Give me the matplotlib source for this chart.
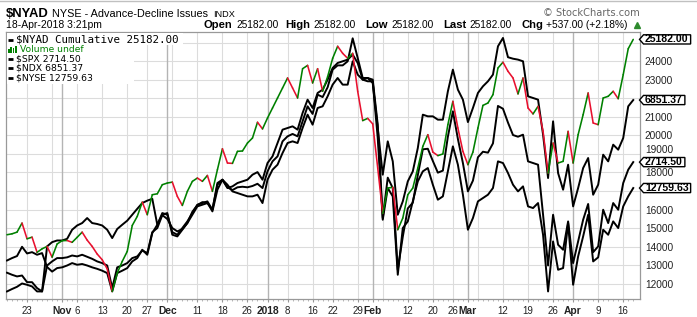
import numpy as np
import pandas as pd
import matplotlib
matplotlib.use('Agg')
import matplotlib.pyplot as plt
from matplotlib import font_manager
from matplotlib.collections import LineCollection
from matplotlib.patches import Polygon, Rectangle
from matplotlib.lines import Line2D

holidays = ['2017-11-23', '2017-12-25', '2018-01-01', '2018-01-15', '2018-02-19', '2018-03-30']
dates = pd.bdate_range('2017-10-17', '2018-04-18', freq='C', holidays=holidays)

nyad = [14640, 14690, 14780, 15270, 14420, 14510, 13690, 13880, 14010, 13430,
        14140, 14320, 14330, 14230, 14500, 14780, 14350, 14010, 13600, 13290,
        12800, 11580, 12570, 13200, 13740, 15140, 15630, 16400, 15720, 16800,
        16850, 17340, 17430, 17480, 16710, 16220, 16980, 17520, 17700, 17520,
        17840, 16980, 18150, 19280, 18510, 18490, 19140, 19160, 19590, 19860,
        20710, 20350, 20940, 21480, 22020, 22560, 23100, 22560, 22020, 23600,
        23780, 22830, 23600, 22380, 23170, 24160, 24810, 24430, 24160, 24430,
        22380, 20800, 20920, 20620, 18240, 15790, 17160, 17200, 14910, 15540,
        16800, 17160, 18240, 19410, 20040, 19100, 18910, 19000, 20580, 21840,
        20400, 19140, 18420, 19100, 20400, 21620, 21750, 22200, 23640, 23950,
        23460, 23100, 22240, 23100, 21480, 21160, 21570, 20220, 17970, 19590,
        18510, 18600, 20220, 18510, 20040, 21120, 22290, 20670, 20580, 22020,
        22110, 22380, 21980, 23280, 24680, 25182]

ndx = [11580, 11710, 11830, 12010, 11940, 11850, 11580, 11580, 14010, 14240,
       14330, 14330, 14420, 14910, 15140, 15270, 15540, 15270, 15220, 15140,
       14910, 14460, 14950, 15180, 15400, 15720, 16040, 16350, 16480, 16580,
       15180, 15720, 15810, 14640, 14550, 14910, 15270, 15720, 16170, 16260,
       16350, 15990, 17340, 17610, 17340, 16980, 16890, 16800, 16710, 16710,
       16800, 16350, 17610, 18150, 18420, 19050, 19590, 19680, 19590, 20400,
       21120, 20580, 21480, 21570, 22110, 22740, 23100, 22740, 22740, 24000,
       23280, 23010, 23100, 22830, 20400, 17880, 19680, 18600, 15720, 16440,
       17520, 18060, 19320, 21120, 21030, 21030, 20850, 20850, 22380, 23550,
       22470, 21930, 20720, 21480, 22290, 22650, 22920, 23280, 24810, 25260,
       24220, 24140, 24090, 24000, 22110, 22020, 21930, 20040, 17700, 20760,
       17970, 17070, 18420, 16170, 17160, 18240, 18780, 16800, 17340, 18960,
       18600, 19500, 19230, 19860, 21570, 21910]

spx = [12590, 12480, 12390, 12440, 12080, 12080, 11760, 11580, 12980, 13200,
       13380, 13380, 13420, 13520, 13470, 13560, 13450, 13340, 13200, 13110,
       12980, 11760, 12880, 12980, 13110, 13380, 13470, 13790, 13650, 14780,
       15000, 15700, 15490, 15000, 14820, 14950, 15270, 15880, 16240, 16400,
       16370, 15900, 17070, 17610, 17200, 17050, 17200, 17230, 17200, 17270,
       17390, 17160, 18060, 18600, 18870, 19680, 19950, 20080, 19950, 20760,
       21570, 21160, 22200, 22070, 22600, 23550, 23780, 23780, 24000, 25240,
       24180, 23100, 23100, 23010, 20580, 15540, 17720, 17160, 12750, 14530,
       16060, 16370, 17860, 19250, 19280, 18620, 17990, 18100, 19930, 21300,
       19810, 18510, 16980, 17560, 18820, 19120, 19070, 19570, 21590, 21440,
       20690, 20020, 19930, 20040, 18600, 18510, 18420, 15720, 12980, 15720,
       14100, 13830, 15360, 13110, 14280, 15450, 16300, 13700, 14010, 15990,
       15270, 16350, 15990, 17430, 18150, 18560]

nyse = [13250, 13380, 13490, 13990, 13630, 13700, 13560, 13650, 12900, 12650,
        12840, 12880, 12980, 13110, 13020, 13060, 12980, 12880, 12800, 12700,
        12570, 11580, 12570, 12700, 12840, 13200, 13380, 13830, 13560, 14730,
        15180, 15810, 15720, 14780, 14640, 15000, 15360, 15810, 16260, 16350,
        16440, 15990, 17430, 17610, 17160, 17250, 17430, 17520, 17610, 17880,
        18020, 17610, 18510, 18870, 19590, 20310, 20400, 20490, 20310, 21210,
        21930, 21480, 22290, 22470, 23010, 23640, 23910, 24000, 24090, 24360,
        23910, 23010, 22920, 22920, 19860, 15450, 17160, 16710, 12480, 15000,
        15360, 16440, 17520, 18060, 18240, 17340, 16530, 16710, 18060, 19410,
        18420, 16800, 14910, 15540, 16440, 16620, 16800, 17160, 18600, 18510,
        17970, 17340, 16980, 17250, 16170, 16080, 16350, 14640, 11580, 14280,
        12750, 12840, 15270, 11940, 13470, 14550, 15720, 13200, 13420, 14910,
        14640, 15360, 15000, 16170, 16710, 17160]

tick_dates = ['2017-10-23', '2017-11-01', '2017-11-06', '2017-11-13', '2017-11-20', '2017-11-27',
              '2017-12-01', '2017-12-11', '2017-12-18', '2017-12-26', '2018-01-02', '2018-01-08',
              '2018-01-16', '2018-01-22', '2018-01-29', '2018-02-01', '2018-02-12', '2018-02-20',
              '2018-02-26', '2018-03-01', '2018-03-12', '2018-03-19', '2018-03-26', '2018-04-02',
              '2018-04-09', '2018-04-16']
tick_labels = ['23', 'Nov', '6', '13', '20', '27', 'Dec', '11', '18', '26', '2018', '8', '16', '22',
               '29', 'Feb', '12', '20', '26', 'Mar', '12', '19', '26', 'Apr', '9', '16']
y_ticks = list(range(12000, 24001, 1000))
hidden_y_labels = {22000, 17000}   # covered by the value tags in the reference
nudged_y_labels = {19000: 4.0}     # drawn a little higher, just above a value tag

legend_rows = ['$SPX 2714.50', '$NDX 6851.37', '$NYSE 12759.63']
last_labels = {'nyad': '25182.00', 'ndx': '6851.37', 'spx': '2714.50', 'nyse': '12759.63'}
header_items = [('Open', '25182.00', 204), ('High', '25182.00', 285), ('Low', '25182.00', 365),
                ('Last', '25182.00', 443), ('Chg', '+537.00 (+2.18%)', 521)]


def have_font(name):
    try:
        font_manager.findfont(font_manager.FontProperties(family=name, weight='bold'),
                              fallback_to_default=False)
        return True
    except Exception:
        return False


title_family = 'Liberation Sans Narrow' if have_font('Liberation Sans Narrow') else 'Liberation Sans'
title_size = 10.6 if title_family == 'Liberation Sans Narrow' else 9.4

W, H = 697, 317
fig = plt.figure(figsize=(W / 100, H / 100), dpi=100)
fig.patch.set_facecolor('white')


def fx(px):
    return px / W


def fy(py):
    return 1 - py / H


L, R, T, B = 6, 640, 32, 299
ax = fig.add_axes([fx(L), fy(B), (R - L) / W, (B - T) / H])
n = len(dates)
x = np.arange(n)
ax.set_xlim(-0.2, 126.35)
ax.set_ylim(11172, 25581)

# grid
for yv in range(12000, 25001, 1000):
    ax.axhline(yv, color='#dcdcdc', lw=0.8, zorder=0)
months = [i for i in range(1, n) if dates[i].month != dates[i - 1].month]
weeks = [i for i in range(1, n) if dates[i].isocalendar()[1] != dates[i - 1].isocalendar()[1]]
for i in weeks:
    if i not in months:
        ax.axvline(i, color='#dcdcdc', lw=0.8, zorder=0)
for i in months:
    ax.axvline(i, color='#b4b4b4', lw=1.0, zorder=0)

# overlays
for s in (nyse, spx, ndx):
    ax.plot(x, s, color='black', lw=1.4, zorder=3, solid_joinstyle='round')

# NYAD colored line
v = np.array(nyad, dtype=float)
segs = [[(x[i], v[i]), (x[i + 1], v[i + 1])] for i in range(n - 1)]
cols = ['#008000' if v[i + 1] >= v[i] else '#e8102e' for i in range(n - 1)]
lc = LineCollection(segs, colors=cols, linewidths=1.15, zorder=4, capstyle='round')
ax.add_collection(lc)

for sp in ax.spines.values():
    sp.set_color('#999999')
    sp.set_linewidth(0.9)

# x ticks
pos = [dates.get_loc(pd.Timestamp(d)) for d in tick_dates]
ax.set_xticks(pos)
ax.set_xticklabels(tick_labels)
month_names = {'Nov', 'Dec', '2018', 'Feb', 'Mar', 'Apr'}
for t, lab in zip(ax.get_xticklabels(), tick_labels):
    t.set_fontfamily('Liberation Sans')
    if lab in month_names:
        t.set_fontweight('bold')
        t.set_fontsize(7.4)
    else:
        t.set_fontsize(7.0)
    t.set_color('#222222')
ax.set_xticks(x, minor=True)
ax.tick_params(axis='x', which='major', length=2.5, color='#999999', pad=2.5)
ax.tick_params(axis='x', which='minor', length=1.5, color='#aaaaaa')

# y ticks on right
ax.yaxis.tick_right()
ax.set_yticks(y_ticks)
ax.set_yticklabels(['' if (t in hidden_y_labels or t in nudged_y_labels) else str(t) for t in y_ticks])
ax.tick_params(axis='y', which='both', length=0, pad=3.5, labelsize=7.3, labelcolor='#222222')
for t in ax.get_yticklabels():
    t.set_fontfamily('Liberation Sans')
for yv, dy in nudged_y_labels.items():
    _, yd = ax.transData.transform((0, yv))
    fig.text(fx(640 + 3.5 * 100 / 72), (yd + dy) / H, str(yv), fontsize=7.3, family='Liberation Sans',
             color='#222222', va='center', ha='left')

# header
fig.add_artist(Line2D([0, 1], [fy(1), fy(1)], transform=fig.transFigure, color='#c0c0c0', lw=1))
fig.text(fx(6), fy(17.2), '$NYAD', fontsize=title_size, fontweight='bold', family=title_family,
         va='baseline', ha='left')
fig.text(fx(52), fy(17.2), 'NYSE - Advance-Decline Issues', fontsize=7.8, family='Liberation Sans',
         va='baseline', ha='left')
fig.text(fx(213), fy(17.2), 'INDX', fontsize=6.6, family='Liberation Sans', va='baseline', ha='left')
fig.text(fx(6), fy(28.4), '18-Apr-2018 3:21pm', fontsize=7.5, family='Liberation Sans',
         va='baseline', ha='left')
fig.text(fx(640), fy(16.5), '\u00a9 StockCharts.com', fontsize=7.1, family='DejaVu Sans',
         va='baseline', ha='right', color='#666666')

renderer = fig.canvas.get_renderer()
for lab, val, xpos in header_items:
    t = fig.text(fx(xpos), fy(28.4), lab, fontsize=8.1, fontweight='bold', family='Liberation Sans',
                 va='baseline', ha='left')
    w = t.get_window_extent(renderer).width
    fig.text(fx(xpos + w + 3.5), fy(28.4), val, fontsize=7.3, family='Liberation Sans',
             va='baseline', ha='left')
fig.add_artist(Line2D([fx(636.5)], [fy(25)], marker='^', markersize=4, color='#2e8b2e',
                      transform=fig.transFigure, linestyle='none'))

# legend (white background)
fig.add_artist(Rectangle((fx(6.5), fy(84)), (134 - 6.5) / W, (84 - 32.5) / H, transform=fig.transFigure,
                         facecolor='white', edgecolor='none', zorder=5))
fig.add_artist(Rectangle((fx(6.5), fy(45)), (183 - 6.5) / W, (45 - 32.5) / H, transform=fig.transFigure,
                         facecolor='white', edgecolor='none', zorder=5))
rows_y = [39.7, 49.7, 58.9, 68.3, 77.8]
fig.text(fx(15.5), fy(rows_y[0]), '$NYAD Cumulative 25182.00', fontsize=7.8, family='DejaVu Sans Mono',
         va='center', ha='left', zorder=6)
fig.text(fx(19.5), fy(rows_y[1]), 'Volume undef', fontsize=6.6, family='DejaVu Sans',
         va='center', ha='left', color='#008000', zorder=6)
for ry, lab in zip(rows_y[2:], legend_rows):
    fig.text(fx(15.5), fy(ry), lab, fontsize=6.7, family='DejaVu Sans', va='center', ha='left', zorder=6)
for ry in [rows_y[0]] + rows_y[2:]:
    fig.add_artist(Line2D([fx(8), fx(13.5)], [fy(ry), fy(ry)], transform=fig.transFigure,
                          color='black', lw=2.0, zorder=6, solid_capstyle='butt'))
for k, hgt in enumerate([4, 6, 5, 7]):
    fig.add_artist(Rectangle((fx(8 + k * 2.4), fy(rows_y[1] + 3.5)), 1.6 / W, hgt / H,
                             transform=fig.transFigure, facecolor='#008000', edgecolor='none', zorder=6))

# last value tags
for series, key in ((nyad, 'nyad'), (ndx, 'ndx'), (spx, 'spx'), (nyse, 'nyse')):
    _, ydisp = ax.transData.transform((n - 1, series[-1]))
    t = fig.text(fx(645), ydisp / H, last_labels[key], fontsize=7.6, fontweight='bold',
                 family='Liberation Sans', va='center', ha='left', zorder=8)
    w = t.get_window_extent(renderer).width
    xr = 645 + w + 2
    hh = 4.6
    tip = 639.5
    pts = [(tip, ydisp), (tip + 4, ydisp - hh), (xr, ydisp - hh), (xr, ydisp + hh), (tip + 4, ydisp + hh)]
    pts = [(px / W, py / H) for px, py in pts]
    fig.add_artist(Polygon(pts, closed=True, transform=fig.transFigure, facecolor='white',
                           edgecolor='black', lw=1.0, zorder=7))

fig.savefig('out.png', dpi=100, facecolor='white')
